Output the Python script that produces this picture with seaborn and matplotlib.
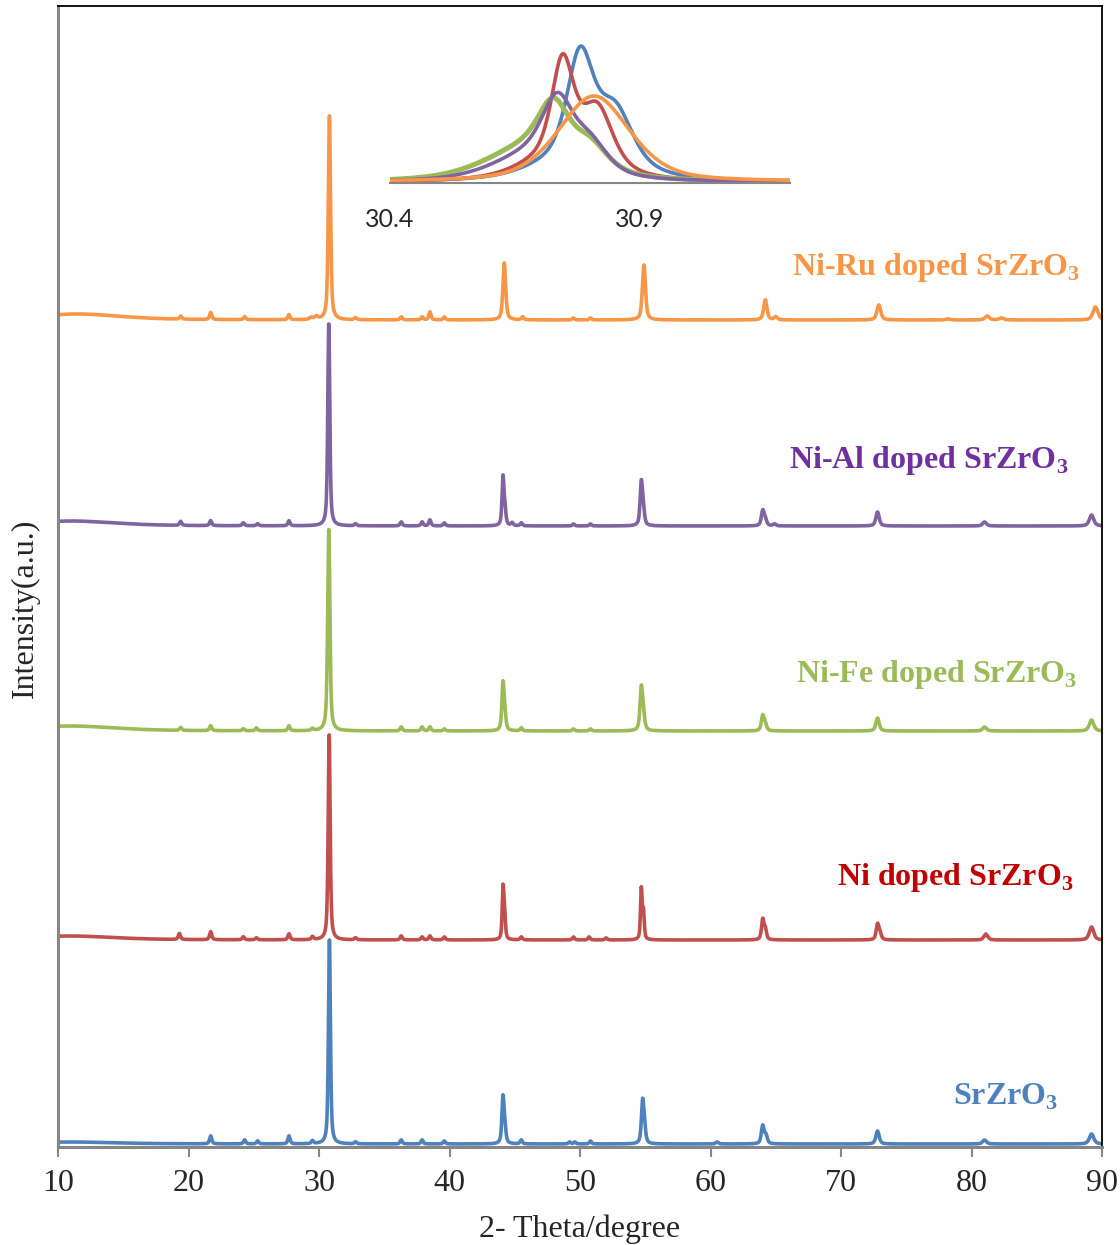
import numpy as np
import pandas as pd
import matplotlib
matplotlib.use("Agg")
import matplotlib.pyplot as plt
import seaborn as sns

# ---------------- data ----------------
samples = ["SrZrO3", "Ni doped SrZrO3", "Ni-Fe doped SrZrO3",
           "Ni-Al doped SrZrO3", "Ni-Ru doped SrZrO3"]
line_colors = ["#4F81BD", "#C0504D", "#9BBB59", "#8064A2", "#F79646"]
label_colors = ["#4F81BD", "#C00000", "#9BBB59", "#7030A0", "#F79646"]
offsets = [3, 207, 416, 621, 827]

# peak lists: position (2theta), height (a.u.), FWHM (deg)
blue_pos = [11.0, 21.7, 24.3, 25.3, 27.7, 29.5, 30.8, 32.8, 36.3, 37.9, 39.6,
            44.1, 44.25, 45.5, 49.2, 49.6, 50.8, 54.8, 54.95, 60.5, 64.0, 64.25,
            72.8, 81.0, 89.2]
blue_h = [2, 8, 4, 3, 8, 3, 204, 2, 4, 4, 3,
          46, 12, 4, 2, 2, 3, 42, 12, 2, 18, 8,
          13, 4, 10]
blue_w = [8, 0.2, 0.2, 0.2, 0.2, 0.2, 0.18, 0.2, 0.2, 0.2, 0.2,
          0.2, 0.2, 0.2, 0.2, 0.2, 0.2, 0.22, 0.22, 0.25, 0.25, 0.25,
          0.3, 0.35, 0.4]

red_pos = [11.0, 19.3, 21.7, 24.2, 25.2, 27.7, 29.5, 30.78, 32.8, 36.3, 37.9,
           38.5, 39.6, 44.1, 44.22, 45.5, 49.5, 50.7, 52.0, 54.7, 54.86,
           64.0, 64.2, 72.8, 72.98, 81.1, 89.2]
red_h = [4, 6, 8, 3, 2, 6, 3, 205, 2, 4, 3,
         4, 3, 50, 25, 3, 3, 3, 2, 50, 26,
         20, 10, 15, 6, 6, 13]
red_w = [8, 0.2, 0.2, 0.2, 0.2, 0.2, 0.2, 0.18, 0.2, 0.2, 0.2,
         0.2, 0.2, 0.15, 0.15, 0.2, 0.2, 0.2, 0.2, 0.15, 0.15,
         0.22, 0.22, 0.25, 0.25, 0.35, 0.4]

green_pos = [11.0, 19.4, 21.7, 24.2, 25.2, 27.7, 29.5, 30.75, 36.3, 37.9,
             38.5, 39.6, 44.1, 44.25, 45.5, 49.5, 50.8, 54.7, 54.86,
             64.0, 64.2, 72.8, 81.0, 89.2]
green_h = [5, 3, 5, 2, 3, 5, 2, 203, 4, 4,
           4, 2, 47, 12, 3, 2, 2, 42, 12,
           15, 6, 13, 4, 11]
green_w = [8, 0.2, 0.2, 0.2, 0.2, 0.2, 0.2, 0.2, 0.2, 0.2,
           0.2, 0.2, 0.2, 0.2, 0.2, 0.2, 0.2, 0.24, 0.24,
           0.25, 0.25, 0.3, 0.35, 0.4]

purple_pos = [11.0, 19.4, 21.7, 24.2, 25.3, 27.7, 30.75, 32.8, 36.3, 37.9,
              38.5, 39.6, 44.1, 44.25, 44.8, 45.5, 49.5, 50.8, 54.7, 54.86,
              64.0, 64.2, 64.9, 72.8, 81.0, 89.2]
purple_h = [5, 4, 5, 3, 2, 5, 204, 2, 4, 4,
            6, 3, 48, 14, 3, 3, 2, 2, 43, 12,
            15, 6, 2, 14, 4, 11]
purple_w = [8, 0.2, 0.2, 0.2, 0.2, 0.2, 0.18, 0.2, 0.2, 0.2,
            0.2, 0.2, 0.18, 0.18, 0.2, 0.2, 0.2, 0.2, 0.22, 0.22,
            0.25, 0.25, 0.25, 0.3, 0.35, 0.4]

orange_pos = [11.5, 19.4, 21.7, 24.3, 27.7, 29.4, 29.8, 30.8, 32.8, 36.3,
              37.9, 38.5, 39.6, 44.2, 45.6, 49.5, 50.8, 54.9, 64.2, 65.0,
              72.9, 78.2, 81.2, 82.3, 89.5]
orange_h = [6, 3, 7, 3, 5, 2, 3, 204, 2, 3,
            3, 8, 3, 57, 3, 2, 2, 55, 20, 3,
            15, 1, 4, 2, 13]
orange_w = [8, 0.2, 0.2, 0.2, 0.2, 0.3, 0.3, 0.2, 0.2, 0.2,
            0.2, 0.2, 0.2, 0.25, 0.2, 0.2, 0.2, 0.28, 0.3, 0.3,
            0.35, 0.4, 0.4, 0.4, 0.45]

peak_pos = [blue_pos, red_pos, green_pos, purple_pos, orange_pos]
peak_h = [blue_h, red_h, green_h, purple_h, orange_h]
peak_w = [blue_w, red_w, green_w, purple_w, orange_w]

# inset (30.4 - 31.2): components position, height, FWHM
inset_pos = [[30.78, 30.85, 30.79],
             [30.745, 30.815, 30.755],
             [30.727, 30.80, 30.69],
             [30.735, 30.80, 30.70],
             [30.808]]
inset_h = [[96, 50, 31],
           [90, 52, 32],
           [47, 22, 37],
           [56, 26, 31],
           [86]]
inset_w = [[0.06, 0.08, 0.20],
           [0.05, 0.07, 0.18],
           [0.07, 0.08, 0.22],
           [0.07, 0.08, 0.20],
           [0.17]]

x_ticks = [10, 20, 30, 40, 50, 60, 70, 80, 90]
inset_ticks = [30.4, 30.9]


def pv(x, c, h, w, eta=0.6):
    d = (x - c) / w
    lor = 1.0 / (1.0 + 4.0 * d ** 2)
    gau = np.exp(-4.0 * np.log(2) * d ** 2)
    return h * (eta * lor + (1 - eta) * gau)


theta = np.arange(10.0, 90.0001, 0.02)
rows = []
for i, s in enumerate(samples):
    y = np.zeros_like(theta)
    for c, h, w in zip(peak_pos[i], peak_h[i], peak_w[i]):
        y += pv(theta, c, h, w)
    rows.append(pd.DataFrame({"theta": theta, "y": y + offsets[i], "sample": s}))
df = pd.concat(rows, ignore_index=True)

theta_in = np.arange(30.4, 31.2001, 0.002)
rows = []
for i, s in enumerate(samples):
    y = np.zeros_like(theta_in)
    for c, h, w in zip(inset_pos[i], inset_h[i], inset_w[i]):
        y += pv(theta_in, c, h, w, 0.45)
    rows.append(pd.DataFrame({"theta": theta_in, "y": y + 1, "sample": s}))
dfi = pd.concat(rows, ignore_index=True)

# ---------------- drawing ----------------
sns.set_style("white")
plt.rcParams["font.family"] = ["Liberation Serif", "DejaVu Serif"]
plt.rcParams["mathtext.fontset"] = "custom"
plt.rcParams["mathtext.rm"] = "Liberation Serif"
plt.rcParams["mathtext.bf"] = "Liberation Serif:bold"

W, H = 1120, 1245
fig = plt.figure(figsize=(W / 100, H / 100), dpi=100)
ax = fig.add_axes([58 / W, 1 - 1147 / H, (1102 - 58) / W, (1147 - 6) / H])
palette = dict(zip(samples, line_colors))

sns.lineplot(data=df, x="theta", y="y", hue="sample", hue_order=samples,
             palette=palette, estimator=None, sort=False, lw=2.6,
             legend=False, ax=ax)
ax.set_xlim(10, 90)
ax.set_ylim(0, 1141)
ax.set_xticks(x_ticks)
ax.set_xticklabels([str(t) for t in x_ticks])
ax.set_yticks([])
ax.set_xlabel("")
ax.set_ylabel("")
ax.tick_params(axis="x", direction="out", length=7, width=1.5, color="#868686",
               pad=9, labelsize=23, bottom=True)
for side in ["left", "bottom"]:
    ax.spines[side].set_color("#868686")
    ax.spines[side].set_linewidth(2.2)
for side in ["top", "right"]:
    ax.spines[side].set_color("black")
    ax.spines[side].set_linewidth(1.3)

label_x = [86.6, 87.8, 88.1, 87.4, 88.3]
label_base = [1105, 885, 682, 468, 275]
for i, s in enumerate(samples):
    txt = s.replace("SrZrO3", r"SrZrO$_\mathbf{3}$")
    ax.text(label_x[i], 1147 - label_base[i], txt, color=label_colors[i],
            fontsize=23, fontweight="bold", ha="right", va="baseline")

fig.text(25 / W, 1 - 608 / H, "Intensity(a.u.)", rotation=90,
         ha="center", va="center", fontsize=23)
fig.text(580 / W, 1 - 1229 / H, "2- Theta/degree", ha="center", va="center",
         fontsize=23)

# inset
axi = fig.add_axes([390 / W, 1 - 183 / H, 400 / W, 150 / H])
axi.patch.set_alpha(0)
inset_lw = [2.6, 2.6, 3.6, 2.6, 2.6]
for i, s in enumerate(samples):
    sns.lineplot(data=dfi[dfi["sample"] == s], x="theta", y="y",
                 color=line_colors[i], estimator=None, sort=False,
                 lw=inset_lw[i], legend=False, ax=axi)
axi.set_xlim(30.4, 31.2)
axi.set_ylim(0, 150)
axi.set_xticks(inset_ticks)
axi.set_xticklabels(["30.4", "30.9"], family=["Lato", "DejaVu Sans"])
axi.set_yticks([])
axi.set_xlabel("")
axi.set_ylabel("")
axi.tick_params(axis="x", direction="out", length=5, width=1.3, color="#868686",
                pad=13, labelsize=18)
for side in ["left", "top", "right"]:
    axi.spines[side].set_visible(False)
axi.spines["bottom"].set_color("#868686")
axi.spines["bottom"].set_linewidth(1.5)

fig.savefig("out.png", dpi=100)
